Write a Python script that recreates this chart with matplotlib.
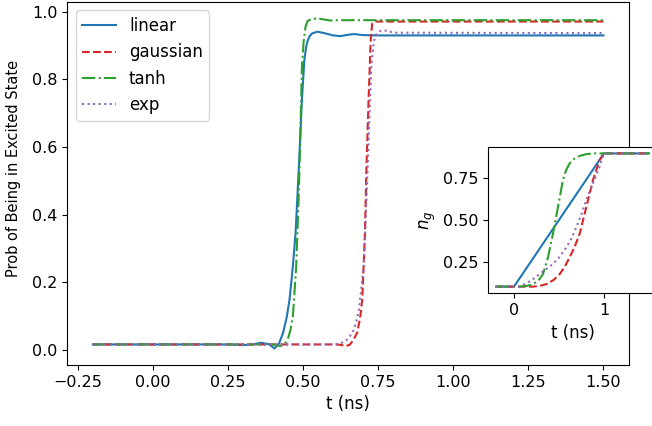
import matplotlib

matplotlib.use("Agg")
import matplotlib.pyplot as plt

# excitation probability vs time for each ramp shape
t_linear = [-0.2, 0.25, 0.30, 0.33, 0.36, 0.385, 0.405, 0.42, 0.433, 0.445, 0.455, 0.466,
            0.475, 0.486, 0.496, 0.504, 0.51, 0.515, 0.522, 0.53, 0.548, 0.57, 0.60, 0.625,
            0.65, 0.67, 0.70, 0.75, 1.5]
p_linear = [0.017, 0.017, 0.015, 0.017, 0.022, 0.018, 0.005, 0.02, 0.05, 0.095, 0.15, 0.248,
            0.346, 0.542, 0.738, 0.855, 0.895, 0.914, 0.928, 0.936, 0.941, 0.937, 0.930, 0.928,
            0.932, 0.934, 0.931, 0.930, 0.930]

t_gauss = [-0.2, 0.60, 0.625, 0.642, 0.655, 0.668, 0.68, 0.69, 0.697, 0.706, 0.711, 0.718,
           0.725, 0.73, 0.74, 1.5]
p_gauss = [0.017, 0.017, 0.016, 0.012, 0.016, 0.03, 0.052, 0.095, 0.15, 0.346, 0.542, 0.738,
           0.914, 0.965, 0.971, 0.971]

t_tanh = [-0.2, 0.40, 0.425, 0.44, 0.449, 0.458, 0.466, 0.477, 0.485, 0.491, 0.496, 0.502,
          0.508, 0.515, 0.53, 0.548, 0.57, 0.592, 0.62, 1.5]
p_tanh = [0.017, 0.017, 0.012, 0.02, 0.032, 0.06, 0.10, 0.245, 0.441, 0.638, 0.834, 0.914,
          0.955, 0.973, 0.979, 0.98, 0.977, 0.974, 0.975, 0.975]

t_exp = [-0.2, 0.60, 0.625, 0.645, 0.664, 0.676, 0.686, 0.702, 0.711, 0.719, 0.727, 0.736,
         0.745, 0.76, 0.78, 0.80, 1.5]
p_exp = [0.017, 0.017, 0.02, 0.03, 0.05, 0.08, 0.12, 0.248, 0.444, 0.64, 0.836, 0.914,
         0.935, 0.945, 0.944, 0.938, 0.937]

# gate charge ramps n_g(t)
ng_t_linear = [-0.2, 0.0, 1.0, 1.5]
ng_linear = [0.1, 0.1, 0.9, 0.9]

ng_t_gauss = [-0.2, 0.1, 0.211, 0.29, 0.36, 0.44, 0.508, 0.565, 0.619, 0.675, 0.73, 0.804,
              0.878, 0.952, 1.0, 1.5]
ng_gauss = [0.1, 0.1, 0.1, 0.105, 0.115, 0.14, 0.175, 0.22, 0.276, 0.34, 0.417, 0.578,
            0.74, 0.86, 0.9, 0.9]

ng_t_tanh = [-0.2, 0.06, 0.15, 0.211, 0.27, 0.322, 0.378, 0.433, 0.489, 0.544, 0.58, 0.619,
             0.67, 0.73, 0.8, 0.878, 1.5]
ng_tanh = [0.1, 0.1, 0.105, 0.115, 0.135, 0.175, 0.276, 0.417, 0.578, 0.74, 0.8, 0.84,
           0.868, 0.885, 0.895, 0.9, 0.9]

ng_t_exp = [-0.2, 0.063, 0.14, 0.211, 0.32, 0.433, 0.51, 0.582, 0.64, 0.693, 0.75, 0.804,
            0.878, 0.952, 1.0, 1.5]
ng_exp = [0.1, 0.1, 0.12, 0.145, 0.19, 0.236, 0.28, 0.336, 0.39, 0.457, 0.535, 0.619,
          0.72, 0.82, 0.9, 0.9]

plt.rcParams["font.size"] = 12

fig = plt.figure(figsize=(6.52, 4.26), dpi=100)
ax = fig.add_axes([0.1032, 0.1432, 0.8615, 0.8521])
ax.plot(t_linear, p_linear, "-", color="C0", label="linear")
ax.plot(t_gauss, p_gauss, "--", color="C3", label="gaussian")
ax.plot(t_tanh, p_tanh, "-.", color="C2", label="tanh")
ax.plot(t_exp, p_exp, ":", color="C4", label="exp")
ax.tick_params(labelsize=11.5)
ax.set_xlabel("t (ns)")
ax.set_ylabel("Prob of Being in Excited State", fontsize=10.5)
ax.yaxis.set_label_coords(-0.083, 0.541)
ax.legend(loc="upper left")

ins = fig.add_axes([0.749, 0.3115, 0.258, 0.344])
ins.plot(ng_t_linear, ng_linear, "-", color="C0")
ins.plot(ng_t_gauss, ng_gauss, "--", color="C3")
ins.plot(ng_t_tanh, ng_tanh, "-.", color="C2")
ins.plot(ng_t_exp, ng_exp, ":", color="C4")
ins.set_xticks([0, 1])
ins.set_yticks([0.25, 0.5, 0.75])
ins.tick_params(labelsize=11.5)
ins.set_xlabel("t (ns)")
ins.set_ylabel("$n_g$")

fig.savefig("out.png", dpi=100)
